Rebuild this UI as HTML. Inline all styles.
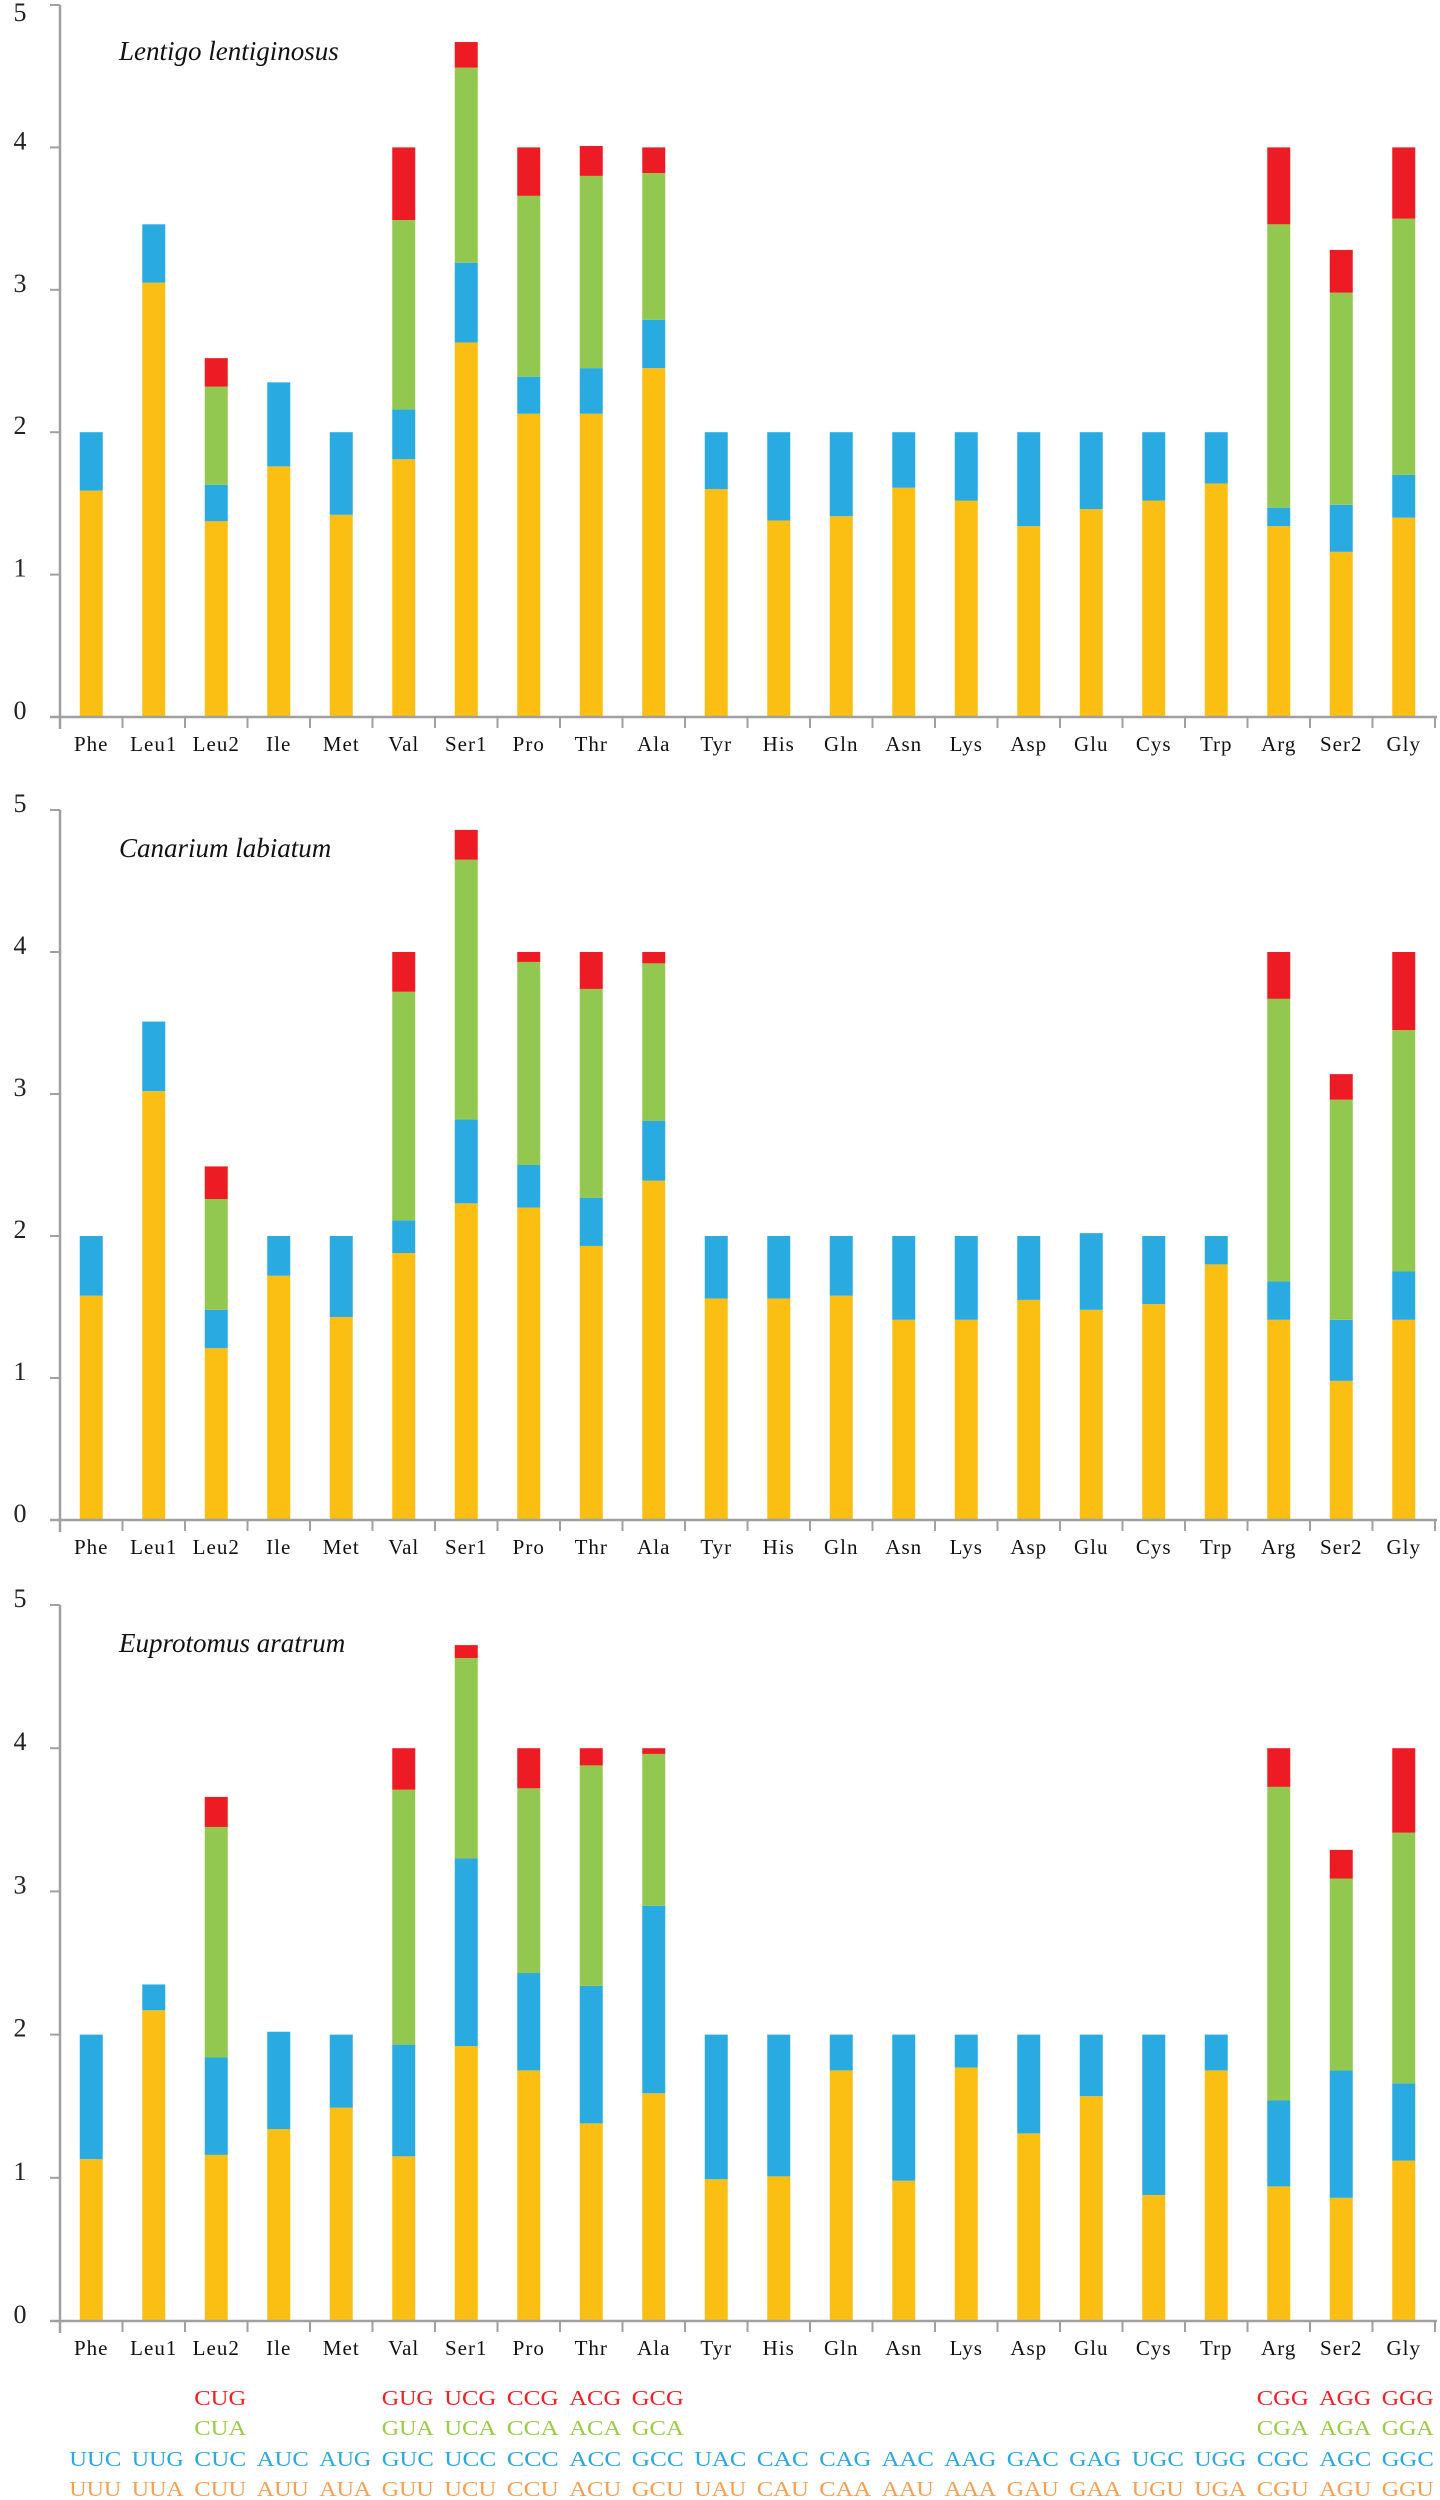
<!DOCTYPE html>
<html><head><meta charset="utf-8">
<style>
html,body{margin:0;padding:0;background:#fff;}
svg{display:block;font-family:"Liberation Serif",serif;}
</style></head>
<body>
<svg id="chart" width="1440" height="2500" viewBox="0 0 1440 2500" xmlns="http://www.w3.org/2000/svg"></svg>
<script>
const categories = ["Phe","Leu1","Leu2","Ile","Met","Val","Ser1","Pro","Thr","Ala","Tyr","His","Gln","Asn","Lys","Asp","Glu","Cys","Trp","Arg","Ser2","Gly"];
const yTicks = [0,1,2,3,4,5];
const speciesNames = ["Lentigo lentiginosus","Canarium labiatum","Euprotomus aratrum"];
// cumulative stack tops per codon position (codon 1..4)
const sp1Codon1 = [1.59,3.05,1.375,1.76,1.42,1.81,2.63,2.13,2.13,2.45,1.60,1.38,1.41,1.61,1.52,1.34,1.46,1.52,1.64,1.34,1.16,1.40];
const sp1Codon2 = [2.0,3.46,1.63,2.35,2.0,2.16,3.19,2.39,2.45,2.79,2.0,2.0,2.0,2.0,2.0,2.0,2.0,2.0,2.0,1.47,1.49,1.70];
const sp1Codon3 = [0,0,2.32,0,0,3.49,4.56,3.66,3.80,3.82,0,0,0,0,0,0,0,0,0,3.46,2.98,3.50];
const sp1Codon4 = [0,0,2.52,0,0,4.0,4.74,4.0,4.01,4.0,0,0,0,0,0,0,0,0,0,4.0,3.28,4.0];
const sp2Codon1 = [1.58,3.02,1.21,1.72,1.43,1.88,2.23,2.2,1.93,2.39,1.56,1.56,1.58,1.41,1.41,1.55,1.48,1.52,1.80,1.41,0.98,1.41];
const sp2Codon2 = [2.0,3.51,1.48,2.0,2.0,2.11,2.82,2.5,2.27,2.81,2.0,2.0,2.0,2.0,2.0,2.0,2.02,2.0,2.0,1.68,1.41,1.75];
const sp2Codon3 = [0,0,2.26,0,0,3.72,4.65,3.93,3.74,3.92,0,0,0,0,0,0,0,0,0,3.67,2.96,3.45];
const sp2Codon4 = [0,0,2.49,0,0,4.0,4.86,4.0,4.0,4.0,0,0,0,0,0,0,0,0,0,4.0,3.14,4.0];
const sp3Codon1 = [1.13,2.17,1.16,1.34,1.49,1.15,1.92,1.75,1.38,1.59,0.99,1.01,1.75,0.98,1.77,1.31,1.57,0.88,1.75,0.94,0.86,1.12];
const sp3Codon2 = [2.0,2.35,1.84,2.02,2.0,1.93,3.23,2.43,2.34,2.9,2.0,2.0,2.0,2.0,2.0,2.0,2.0,2.0,2.0,1.54,1.75,1.66];
const sp3Codon3 = [0,0,3.45,0,0,3.71,4.63,3.72,3.88,3.96,0,0,0,0,0,0,0,0,0,3.73,3.09,3.41];
const sp3Codon4 = [0,0,3.66,0,0,4.0,4.72,4.0,4.0,4.0,0,0,0,0,0,0,0,0,0,4.0,3.29,4.0];
const codonRow4 = ["","","CUG","","","GUG","UCG","CCG","ACG","GCG","","","","","","","","","","CGG","AGG","GGG"];
const codonRow3 = ["","","CUA","","","GUA","UCA","CCA","ACA","GCA","","","","","","","","","","CGA","AGA","GGA"];
const codonRow2 = ["UUC","UUG","CUC","AUC","AUG","GUC","UCC","CCC","ACC","GCC","UAC","CAC","CAG","AAC","AAG","GAC","GAG","UGC","UGG","CGC","AGC","GGC"];
const codonRow1 = ["UUU","UUA","CUU","AUU","AUA","GUU","UCU","CCU","ACU","GCU","UAU","CAU","CAA","AAU","AAA","GAU","GAA","UGU","UGA","CGU","AGU","GGU"];

const NS="http://www.w3.org/2000/svg";
const svg=document.getElementById('chart');
const COLORS=["#FBBF14","#29ABE2","#92C850","#ED1C24"];
const X0=60, X1=1435;
const slotW=(X1-X0)/categories.length;
const barW=23;
function xCenter(i){return X0+slotW*(i+0.5);}
function mk(tag,attrs,parent){const e=document.createElementNS(NS,tag);for(const k in attrs)e.setAttribute(k,attrs[k]);(parent||svg).appendChild(e);return e;}

const panels=[
 {zero:717, top:5, series:[sp1Codon1,sp1Codon2,sp1Codon3,sp1Codon4], titleY:60},
 {zero:1520, top:810, series:[sp2Codon1,sp2Codon2,sp2Codon3,sp2Codon4], titleY:857},
 {zero:2321, top:1605, series:[sp3Codon1,sp3Codon2,sp3Codon3,sp3Codon4], titleY:1652}
];

panels.forEach((p,pi)=>{
  const g=mk('g',{});
  
  
  const unit=(p.zero-p.top)/5;
  const y=v=>p.zero-v*unit;
  // bars
  categories.forEach((c,i)=>{
    let prev=0;
    p.series.forEach((s,k)=>{
      const v=s[i];
      if(v>prev){
        const r=mk('rect',{x:xCenter(i)-barW/2,y:y(v),width:barW,height:y(prev)-y(v),fill:COLORS[k]},g);
        
        
        prev=v;
      }
    });
  });
  // y axis
  const ya=mk('line',{x1:X0,y1:p.top,x2:X0,y2:p.zero+12,stroke:'#a0a0a0','stroke-width':2.5},g);
  
  
  yTicks.forEach(t=>{
    mk('line',{x1:50,y1:y(t),x2:X0,y2:y(t),stroke:'#a0a0a0','stroke-width':2},g);
    const tl=mk('text',{x:20,y:y(t)+(t===5&&pi===0?16:2),'font-size':26,'text-anchor':'middle',fill:'#222'},g);
    tl.textContent=t;
    
    
  });
  // x axis
  const xa=mk('line',{x1:50,y1:p.zero,x2:X1+2,y2:p.zero,stroke:'#a0a0a0','stroke-width':2.5},g);
  
  
  for(let i=1;i<=categories.length;i++){
    mk('line',{x1:X0+slotW*i,y1:p.zero,x2:X0+slotW*i,y2:p.zero+11,stroke:'#a0a0a0','stroke-width':2},g);
  }
  categories.forEach((c,i)=>{
    const t=mk('text',{x:xCenter(i),y:p.zero+34,'font-size':21,'text-anchor':'middle',fill:'#111','letter-spacing':1},g);
    t.textContent=c;
    
    
  });
  const tt=mk('text',{x:119,y:p.titleY,'font-size':27,'font-style':'italic',fill:'#111'},g);
  tt.textContent=speciesNames[pi];
  
  
});

// codon rows
const rows=[[codonRow4,2405,"#EE2128"],[codonRow3,2435,"#9CCB46"],[codonRow2,2466,"#2AA8E0"],[codonRow1,2496,"#F7A052"]];
rows.forEach(([arr,yy,col],ri)=>{
  arr.forEach((s,i)=>{
    if(!s)return;
    const t=mk('text',{x:xCenter(i)+4-26,y:yy,'font-size':21,fill:col,textLength:52,lengthAdjust:'spacingAndGlyphs'});
    t.textContent=s;
    
    
  });
});
</script>
</body></html>
